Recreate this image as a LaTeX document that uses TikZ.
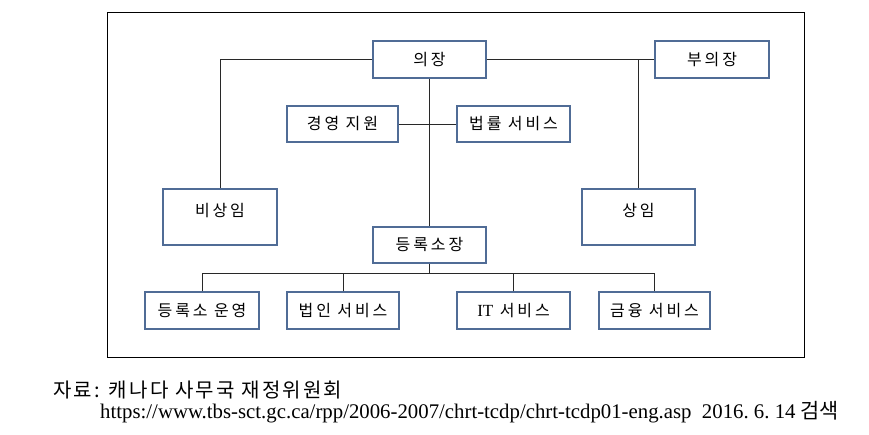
\documentclass[tikz,border=0pt]{standalone}
\usepackage{fontspec}
\setmainfont{Liberation Serif}
\newfontfamily\kr[LetterSpace=18]{Noto Sans CJK KR}
\newfontfamily\krcap[LetterSpace=11]{Noto Sans CJK KR}
\newfontfamily\krplain{Noto Sans CJK KR}
\definecolor{boxblue}{RGB}{80,108,150}
\definecolor{linegray}{RGB}{40,40,40}
\tikzset{
  orgbox/.style={draw=boxblue, line width=1.3pt, fill=white, inner xsep=2pt, inner ysep=2pt,
    font=\kr\fontsize{16}{19}\selectfont, text height=12.6pt, text depth=1.6pt},
  tallbox/.style={orgbox, text height=24pt, text depth=25.7pt, minimum height=56pt},
  conn/.style={draw=linegray, line width=0.8pt},
}
\begin{document}
\begin{tikzpicture}[x=1pt,y=-1pt]
\useasboundingbox (0,0) rectangle (869,434);
\draw[line width=1pt] (107.5,12) rectangle (804,357.5);
% boxes
\node[orgbox, minimum width=113pt, minimum height=37pt] (chair) at (429.5,59.5) {의장};
\node[orgbox, minimum width=114pt, minimum height=37pt] (vice) at (712,59.5) {부의장};
\node[orgbox, minimum width=111pt, minimum height=36pt] (mgmt) at (342.5,124) {경영 지원};
\node[orgbox, minimum width=113pt, minimum height=36pt] (legal) at (513.5,124) {법률 서비스};
\node[tallbox, minimum width=114pt] (nonperm) at (220,217) {비상임};
\node[tallbox, minimum width=113pt] (perm) at (638.5,217) {상임};
\node[orgbox, minimum width=113pt, minimum height=36pt] (reg) at (429.5,245) {등록소장};
\node[orgbox, minimum width=114pt, minimum height=37pt] (ops) at (202,310.5) {등록소 운영};
\node[orgbox, minimum width=112pt, minimum height=37pt] (corp) at (343,310.5) {법인 서비스};
\node[orgbox, minimum width=113pt, minimum height=37pt] (it) at (513.5,310.5) {{\rmfamily\fontsize{17}{19}\selectfont IT} 서비스};
\node[orgbox, minimum width=111pt, minimum height=37pt] (fin) at (654.5,310.5) {금융 서비스};
% connectors
\draw[conn] (chair.west) -| (nonperm.north);
\draw[conn] (chair.east) -- (vice.west);
\draw[conn] (perm.north |- vice.west) -- (perm.north);
\draw[conn] (chair.south) -- (reg.north);
\draw[conn] (mgmt.east) -- (legal.west);
\coordinate (bus) at ([yshift=-10pt]reg.south);
\draw[conn] (reg.south) -- (bus);
\draw[conn] (ops.north) -- (ops.north |- bus) -- (fin.north |- bus) -- (fin.north);
\draw[conn] (corp.north) -- (corp.north |- bus);
\draw[conn] (it.north) -- (it.north |- bus);
% caption
\node[anchor=base west, inner sep=0pt, font=\krcap\fontsize{20}{22}\selectfont] (src) at (53,397) {자료: 캐나다 사무국 재정위원회};
\node[anchor=base west, inner sep=0pt, font=\fontsize{20.8}{22}\selectfont] (url) at (100,418) {https://www.tbs-sct.gc.ca/rpp/2006-2007/chrt-tcdp/chrt-tcdp01-eng.asp\ \ 2016.\ 6.\ 14 {\krplain 검색}};
\end{tikzpicture}
\end{document}
